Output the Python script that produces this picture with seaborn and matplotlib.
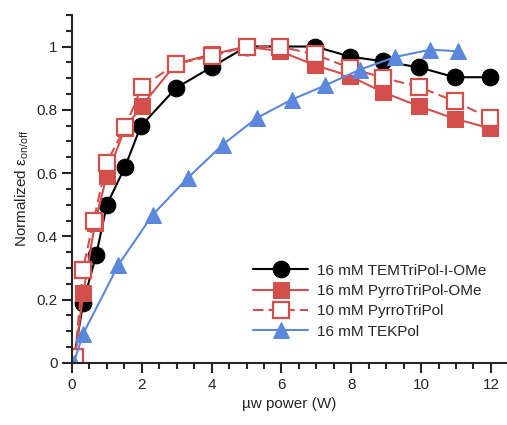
import matplotlib
matplotlib.use("Agg")
import matplotlib.pyplot as plt
from matplotlib.ticker import MultipleLocator
import numpy as np
import pandas as pd
import seaborn as sns

# values
tem_x = [0.05, 0.32, 0.69, 1.0, 1.52, 1.97, 2.98, 4.0, 5.0, 5.96, 6.96, 7.97, 8.92, 9.95, 10.96, 11.96]
tem_y = [0.01, 0.19, 0.34, 0.50, 0.62, 0.748, 0.869, 0.935, 1.0, 1.0, 1.0, 0.968, 0.953, 0.934, 0.903, 0.903]

pyr_ome_x = [0.09, 0.32, 0.66, 0.99, 1.52, 2.0, 2.98, 4.0, 5.0, 5.96, 6.96, 7.97, 8.92, 9.95, 10.96, 11.96]
pyr_ome_y = [0.02, 0.22, 0.442, 0.59, 0.742, 0.813, 0.946, 0.975, 1.0, 0.985, 0.941, 0.906, 0.855, 0.811, 0.772, 0.742]

pyr_x = [0.09, 0.31, 0.62, 0.99, 1.52, 2.0, 2.98, 4.0, 5.0, 5.96, 6.96, 7.97, 8.92, 9.95, 10.96, 11.96]
pyr_y = [0.02, 0.294, 0.45, 0.632, 0.745, 0.872, 0.945, 0.97, 1.0, 1.0, 0.975, 0.932, 0.901, 0.872, 0.827, 0.774]

tek_x = [0.05, 0.32, 1.33, 2.31, 3.31, 4.32, 5.29, 6.29, 7.25, 8.25, 9.26, 10.26, 11.07]
tek_y = [0.0, 0.092, 0.31, 0.468, 0.584, 0.69, 0.774, 0.832, 0.877, 0.927, 0.967, 0.99, 0.985]

labels = ["16 mM TEMTriPol-I-OMe", "16 mM PyrroTriPol-OMe", "10 mM PyrroTriPol", "16 mM TEKPol"]

red = "#d24f4c"
blue = "#5b87dc"

sns.set_style("ticks")
plt.rcParams["font.family"] = ["Liberation Sans", "DejaVu Sans"]
plt.rcParams["mathtext.fontset"] = "custom"
plt.rcParams["mathtext.rm"] = "Liberation Sans"

fig = plt.figure(figsize=(5.07, 4.25), dpi=100)
ax = fig.add_axes([0.142, 0.146, 0.858, 0.819])

sns.lineplot(x=tem_x, y=tem_y, ax=ax, color="black", marker="o", markersize=12,
             markeredgecolor="black", linewidth=1.5, label=labels[0], sort=False)
sns.lineplot(x=pyr_ome_x, y=pyr_ome_y, ax=ax, color=red, marker="s", markersize=11.5,
             markeredgecolor=red, linewidth=1.5, label=labels[1], sort=False)
sns.lineplot(x=pyr_x, y=pyr_y, ax=ax, color=red, marker="s", markersize=11,
             markerfacecolor="white", markeredgecolor=red, markeredgewidth=1.6,
             linewidth=1.5, linestyle=(0, (5, 2.5)), label=labels[2], sort=False)
sns.lineplot(x=tek_x, y=tek_y, ax=ax, color=blue, marker="^", markersize=12,
             markeredgecolor=blue, linewidth=1.5, label=labels[3], sort=False)

ax.set_xlim(0, 12.46)
ax.set_ylim(0, 1.1)
ax.xaxis.set_major_locator(MultipleLocator(2))
ax.xaxis.set_minor_locator(MultipleLocator(0.5))
ax.yaxis.set_major_locator(MultipleLocator(0.2))
ax.yaxis.set_minor_locator(MultipleLocator(0.05))
ax.set_yticks([0, 0.2, 0.4, 0.6, 0.8, 1.0])
ax.set_yticklabels(["0", "0.2", "0.4", "0.6", "0.8", "1"])
ax.tick_params(which="major", length=7, width=1.5, labelsize=11, direction="out")
ax.tick_params(which="minor", length=4, width=1.5, direction="out")
for s in ["left", "bottom"]:
    ax.spines[s].set_linewidth(1.5)
sns.despine(ax=ax)

ax.set_xlabel("µw power (W)", fontsize=11)
ax.set_ylabel(r"Normalized ε$_{\mathregular{on/off}}$", fontsize=11)

ax.legend(loc="lower right", bbox_to_anchor=(0.985, 0.03), frameon=False, fontsize=11,
          handlelength=3.6, handletextpad=0.6, labelspacing=0.42)

fig.savefig("out.png", dpi=100)
